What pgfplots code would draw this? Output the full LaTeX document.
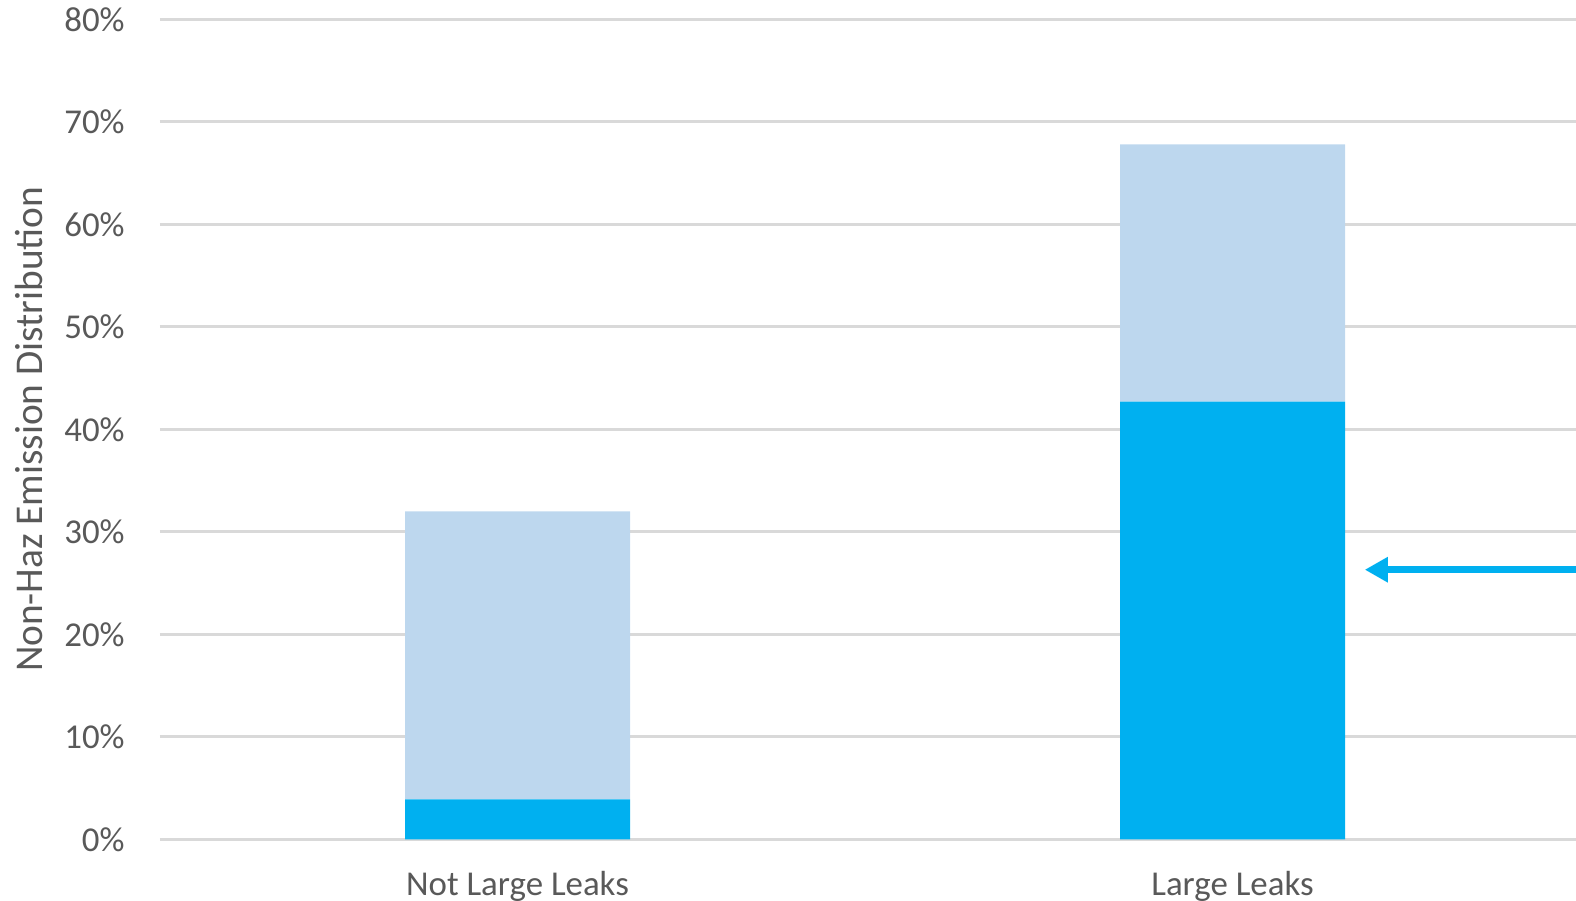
\documentclass[border=0pt]{standalone}
\usepackage{pgfplots}
\pgfplotsset{compat=1.18}
\usepackage{fontspec}
\setmainfont{Carlito}
\usetikzlibrary{arrows.meta}
\definecolor{leakdark}{HTML}{00B0F0}
\definecolor{leaklight}{HTML}{BDD7EE}
\definecolor{gridgray}{HTML}{D9D9D9}
\definecolor{labelgray}{HTML}{595959}

\begin{document}
\begin{tikzpicture}
\path[use as bounding box] (-80bp,-30.85bp) rectangle (708bp,419.65bp);
\begin{axis}[
  scale only axis, width=708bp, height=410bp,
  xmin=-0.5, xmax=1.4804, ymin=0, ymax=80,
  axis line style={draw=none},
  ybar stacked, bar width=112.5bp,
  xtick={0,1}, xticklabels={Not Large Leaks, Large Leaks},
  ytick={0,10,...,80},
  yticklabels={0\%,10\%,20\%,30\%,40\%,50\%,60\%,70\%,80\%},
  major tick length=0pt,
  ymajorgrids, grid style={gridgray, line width=1.5bp},
  tick label style={font=\fontsize{17.5}{21}\selectfont, text=labelgray, inner sep=0pt},
  yticklabel style={anchor=east, xshift=-17.5bp},
  xticklabel style={anchor=base, yshift=-27.85bp},
  ylabel={Non-Haz Emission Distribution},
  ylabel style={at={(axis description cs:-0.0925,0.5)}, anchor=center,
    font=\fontsize{19.75}{24}\selectfont, text=labelgray, inner sep=0pt},
  clip=false,
]
\addplot[fill=leakdark, draw=none] coordinates {(0,3.9) (1,42.7)};
\addplot[fill=leaklight, draw=none] coordinates {(0,28.1) (1,25.1)};
\draw[leakdark, line width=3.5bp, -{Triangle[length=11.5bp,width=12bp]}]
  (axis cs:1.6,26.3) -- (axis cs:1.185,26.3);
\end{axis}
\end{tikzpicture}
\end{document}
